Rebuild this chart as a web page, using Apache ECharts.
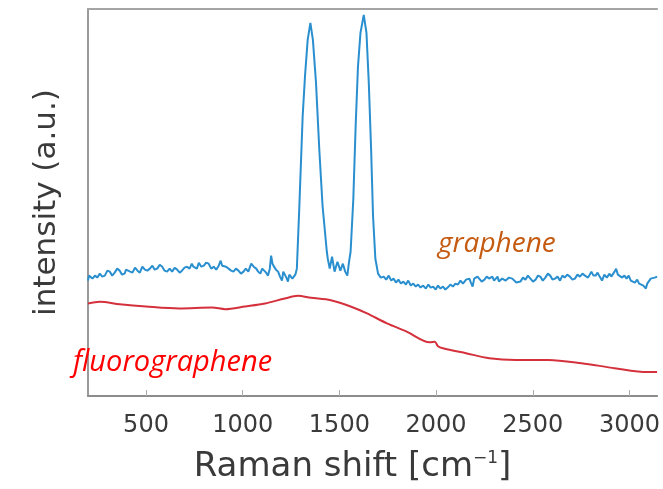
<!DOCTYPE html>
<html>
<head>
<meta charset="utf-8">
<script src="https://cdn.jsdelivr.net/npm/echarts@6/dist/echarts.min.js"></script>
<style>
  html, body { margin: 0; padding: 0; background: #ffffff; }
  #chart { width: 663px; height: 489px; }
</style>
</head>
<body>
<div id="chart"></div>
<script>
// Raman shift (cm^-1) and intensity (a.u.)
// graphene: baseline below the peaks
const grapheneShiftLow = [200,205,210,223,236,248,261,274,287,300,313,325,338,351,364,376,389,397,405,418,430,443,456,468,481,494,507,520,533,545,558,571,584,596,609,622,635,648,661,674,686,699,712,725,737,745,753,763,773,786,799,811,824,837,850,863,876,886,894,901,914,927,940,952,965,978,991,1004,1016,1029,1037,1044,1057,1070,1080,1091,1101,1111,1121,1131,1140,1147,1154,1162,1172,1183,1193,1203,1210,1218,1226,1234,1241,1249,1257,1265,1272,1280];
const grapheneValLow = [116,121,120,118,121,119,123,120,121,126,125,121,124,128,126,122,123,127,129,125,124,129,126,124,130,127,126,128,131,127,128,132,130,126,125,128,125,129,127,124,126,129,130,128,133,130,131,128,134,130,131,134,133,128,130,127,131,136,131,133,130,128,126,125,128,126,123,125,128,125,127,133,130,128,125,123,128,126,124,121,128,141,133,130,127,125,120,116,125,123,119,115,122,121,118,116,122,128];
// graphene: D and G peaks
const grapheneShiftPeaks = [1293,1310,1322,1336,1350,1363,1379,1396,1413,1435,1440,1450,1462,1475,1490,1505,1518,1530,1541,1550,1558,1572,1584,1596,1609,1626,1640,1652,1664,1674,1686];
const grapheneValPeaks = [191,281,321,358,375,358,315,248,191,145,138,128,140,125,135,126,133,125,121,135,145,198,271,331,365,383,365,315,248,181,138];
// graphene: baseline above the peaks
const grapheneShiftHigh = [1700,1714,1729,1742,1755,1768,1780,1793,1805,1818,1831,1844,1856,1869,1882,1895,1907,1920,1933,1947,1960,1972,1985,1998,2010,2023,2036,2048,2060,2074,2087,2100,2113,2126,2139,2155,2172,2180,2189,2197,2205,2214,2223,2236,2250,2262,2274,2291,2300,2310,2318,2325,2342,2360,2377,2394,2415,2436,2449,2462,2475,2488,2501,2515,2527,2539,2552,2565,2578,2590,2602,2615,2628,2641,2653,2665,2678,2692,2705,2718,2731,2744,2757,2770,2786,2803,2814,2825,2835,2846,2858,2870,2883,2897,2906,2915,2923,2931,2940,2950,2962,2974,2985,2996,3007,3017,3028,3040,3050,3060,3072,3085,3092,3100,3110,3119,3130,3143];
const grapheneValHigh = [123,119,120,117,121,116,118,114,117,113,115,112,116,111,113,110,112,109,111,108,112,109,110,107,111,108,110,107,109,112,110,113,112,116,113,117,118,114,110,118,116,120,118,115,117,120,118,120,116,117,120,115,118,116,119,118,114,115,119,117,121,118,115,117,121,120,116,119,123,121,117,118,120,116,121,119,122,120,117,118,122,120,123,121,119,125,121,121,124,120,116,122,119,123,120,121,125,128,122,124,119,121,118,121,116,118,114,117,113,115,111,108,113,112,118,116,119,120];

const fluoroShift = [200,261,364,500,671,842,910,1012,1115,1217,1285,1353,1456,1558,1643,1746,1848,1967,1993,2010,2036,2155,2275,2411,2582,2752,2923,3093,3143];
const fluoroIntensity = [93,94.7,92.3,90,88,89,87.3,90,93,98,100.7,98.7,96.3,90,83,73,64.7,54,54.5,50,48,43,38,36.3,36.3,33,28,24,24];

const xTicks = [500,1000,1500,2000,2500,3000];
const xMin = 200, xMax = 3143;
const yMin = 0, yMax = 389;

const seriesLabels = ['graphene', 'fluorographene'];

const grapheneShift = grapheneShiftLow.concat(grapheneShiftPeaks, grapheneShiftHigh);
const grapheneIntensity = grapheneValLow.concat(grapheneValPeaks, grapheneValHigh);
const pairs = (xs, ys) => xs.map((x, i) => [x, ys[i]]);

const chart = echarts.init(document.getElementById('chart'), null, { renderer: 'canvas' });
chart.setOption({
  animation: false,
  backgroundColor: '#ffffff',
  grid: { left: 88, right: 0, top: 9, bottom: 91, containLabel: false },
  xAxis: [
    {
      type: 'value', min: xMin, max: xMax, position: 'bottom',
      axisLine: { show: true, lineStyle: { color: '#8c8c8c', width: 2 } },
      axisTick: { show: true, inside: true, length: 6, customValues: xTicks, lineStyle: { color: '#aaaaaa', width: 1 } },
      axisLabel: { show: true, customValues: xTicks, margin: 18, color: '#3a3a3a', fontSize: 24, fontFamily: 'DejaVu Sans',
                   formatter: v => String(v) },
      splitLine: { show: false },
      name: 'Raman shift [cm{sup|−1}]',
      nameLocation: 'middle',
      nameGap: 54,
      nameTextStyle: {
        fontFamily: 'DejaVu Sans', fontSize: 34, color: '#3a3a3a', padding: [0, 40, 0, 0],
        rich: { sup: { fontFamily: 'DejaVu Sans', fontSize: 17, color: '#3a3a3a', verticalAlign: 'top', padding: [0, 0, 14, 0] } }
      }
    },
    {
      type: 'value', min: xMin, max: xMax, position: 'top',
      axisLine: { show: true, lineStyle: { color: '#a5a5a5', width: 2 } },
      axisTick: { show: false }, axisLabel: { show: false }, splitLine: { show: false }
    }
  ],
  yAxis: {
    type: 'value', min: yMin, max: yMax,
    axisLine: { show: true, lineStyle: { color: '#9a9a9a', width: 2 } },
    axisTick: { show: false }, axisLabel: { show: false }, splitLine: { show: false },
    name: 'intensity (a.u.)',
    nameLocation: 'middle',
    nameGap: 26,
    nameTextStyle: { fontFamily: 'DejaVu Sans', fontSize: 31, color: '#3a3a3a' }
  },
  series: [
    {
      name: seriesLabels[0], type: 'line', showSymbol: false, symbol: 'none',
      data: pairs(grapheneShift, grapheneIntensity),
      lineStyle: { color: '#2a8fcf', width: 2 }
    },
    {
      name: seriesLabels[1], type: 'line', showSymbol: false, symbol: 'none', smooth: 0.3,
      data: pairs(fluoroShift, fluoroIntensity),
      lineStyle: { color: '#d4313d', width: 2 }
    }
  ],
  graphic: [
    { type: 'text', left: 438, top: 230, z: 10,
      style: { text: seriesLabels[0], font: 'italic 28px "Open Sans"', fill: '#c55a11' } },
    { type: 'text', left: 73, top: 348, z: 10,
      style: { text: seriesLabels[1], font: 'italic 29px "Open Sans"', fill: '#ff0000' } }
  ]
});
</script>
</body>
</html>
